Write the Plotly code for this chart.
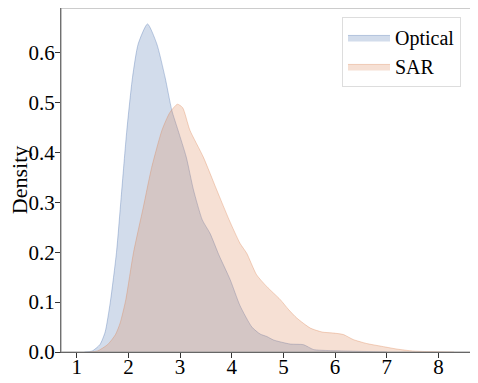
import plotly.graph_objects as go

# density curves (KDE of two samples)
optical_x = [1.15, 1.3, 1.45, 1.55, 1.65, 1.77, 1.86, 1.97, 2.08, 2.19, 2.37,
             2.55, 2.71, 2.84, 2.96, 3.12, 3.26, 3.43, 3.58, 3.75, 3.97, 4.16,
             4.39, 4.55, 4.68, 4.81, 5.13, 5.39, 5.58, 5.84, 6.2, 6.6, 7.0]
optical_y = [0.0, 0.002, 0.015, 0.04, 0.1, 0.2, 0.31, 0.445, 0.551, 0.618, 0.658,
             0.618, 0.551, 0.485, 0.445, 0.391, 0.325, 0.265, 0.238, 0.195, 0.145, 0.093,
             0.05, 0.036, 0.031, 0.024, 0.016, 0.0146, 0.005, 0.003, 0.002, 0.001, 0.0]

sar_x = [1.25, 1.4, 1.6, 1.75, 1.84, 1.95, 2.10, 2.29, 2.45, 2.65, 2.8, 2.95,
         3.05, 3.19, 3.45, 3.71, 3.95, 4.16, 4.29, 4.48, 4.68, 4.94, 5.1, 5.26,
         5.52, 5.75, 5.97, 6.16, 6.35, 6.61, 6.87, 7.19, 7.5, 7.8, 8.3]
sar_y = [0.0, 0.002, 0.015, 0.035, 0.058, 0.105, 0.2, 0.291, 0.37, 0.445, 0.48, 0.497,
         0.49, 0.445, 0.391, 0.325, 0.265, 0.218, 0.198, 0.155, 0.131, 0.105, 0.085, 0.068,
         0.048, 0.040, 0.038, 0.035, 0.025, 0.017, 0.012, 0.006, 0.002, 0.0008, 0.0]

y_ticks = [0.0, 0.1, 0.2, 0.3, 0.4, 0.5, 0.6]
x_ticks = [1, 2, 3, 4, 5, 6, 7, 8]

FONT = "Liberation Serif, Times New Roman, serif"

fig = go.Figure()
fig.add_trace(go.Scatter(
    x=optical_x, y=optical_y, name="Optical", mode="lines",
    line=dict(color="rgba(76,114,176,0.35)", width=1, shape="spline", smoothing=0.6),
    fill="tozeroy", fillcolor="rgba(76,114,176,0.25)",
))
fig.add_trace(go.Scatter(
    x=sar_x, y=sar_y, name="SAR", mode="lines",
    line=dict(color="rgba(221,132,82,0.35)", width=1, shape="spline", smoothing=0.6),
    fill="tozeroy", fillcolor="rgba(221,132,82,0.25)",
))

# the page body has an 8px margin, so the figure is sized to fit the window
fig.update_layout(
    width=470, height=375,
    margin=dict(l=53, r=7, t=0, b=31),
    plot_bgcolor="white", paper_bgcolor="white",
    font=dict(family=FONT, size=21, color="black"),
    showlegend=True,
    legend=dict(x=0.9756, y=0.974, xanchor="right", yanchor="top",
                bgcolor="rgba(255,255,255,0.8)", bordercolor="#dddddd", borderwidth=1,
                font=dict(size=20), itemwidth=42, tracegroupgap=0),
    shapes=[dict(type="rect", xref="paper", yref="paper", x0=0, y0=0, x1=1, y1=1,
                 line=dict(color="#999999", width=1.2), layer="above")],
    annotations=[dict(text="Density", xref="paper", yref="paper", x=-0.102, y=0.5,
                      xanchor="center", yanchor="middle", textangle=-90,
                      showarrow=False, font=dict(size=22))],
)
fig.update_xaxes(range=[0.696, 8.63], tickvals=x_ticks, showgrid=False, zeroline=False,
                 showline=True, linecolor="#333333", linewidth=1.2, automargin=False,
                 ticks="outside", ticklen=5, tickcolor="#333333", ticklabelstandoff=-9)
fig.update_yaxes(range=[0, 0.69], tickvals=y_ticks, tickformat=".1f", showgrid=False,
                 zeroline=False, showline=True, linecolor="#333333", linewidth=1.2,
                 ticks="outside", ticklen=5, tickcolor="#333333", automargin=False,
                 ticklabelstandoff=-4)

fig.write_html("out.html")
